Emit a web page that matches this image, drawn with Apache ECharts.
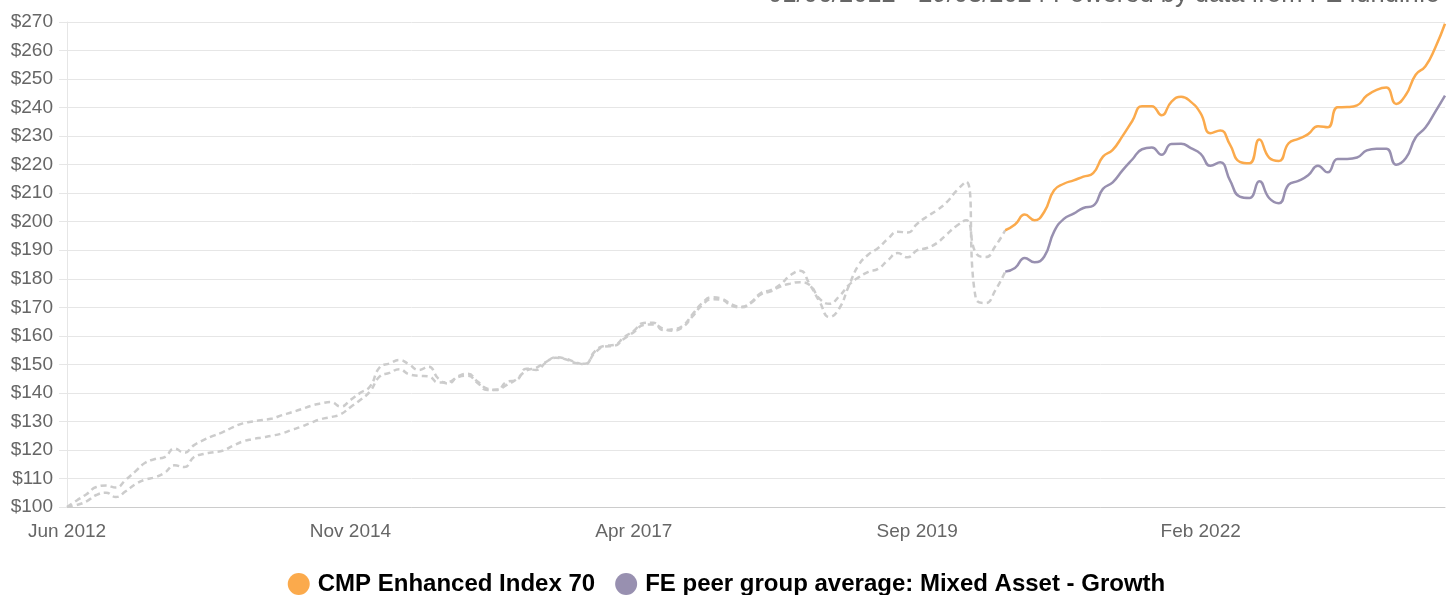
<!DOCTYPE html>
<html>
<head>
<meta charset="utf-8">
<script src="https://cdn.jsdelivr.net/npm/echarts@6/dist/echarts.min.js"></script>
<style>
  html, body { margin: 0; padding: 0; background: #fff; }
  #chart { width: 1453px; height: 595px; }
</style>
</head>
<body>
<div id="chart"></div>
<script>
// monthly points, Jun 2012 .. Mar 2024
const startYear = 2012
const startMonth = 5 // June (0-based)
const monthCount = 142
const monthNames = ['Jan','Feb','Mar','Apr','May','Jun','Jul','Aug','Sep','Oct','Nov','Dec']
const months = []
for (let i = 0; i < monthCount; i++) {
  const m = (startMonth + i) % 12
  const y = startYear + Math.floor((startMonth + i) / 12)
  months.push(monthNames[m] + ' ' + y)
}

const yTicks = { min: 100, max: 270, step: 10 }
const seriesNames = ['CMP Enhanced Index 70', 'FE peer group average: Mixed Asset - Growth']
const titleText = '01/06/2012 - 29/03/2024 Powered by data from FE fundinfo'

// history before the fund's own track record (grey, dashed) : index 0..96
const fundHistory = [100,100.7,102,104.2,105,103.5,105.5,108,109.6,110.4,
  112,114.6,114,117.5,118.6,119.2,119.8,121.5,123,123.8,
  124.4,125,125.8,127,128.2,129.6,130.8,131.5,132.5,135,
  137.5,140.5,145.8,147,148.3,146.5,146,145.8,143.6,143.8,
  145.5,146,143.5,141,141.2,142.8,144.8,147.8,148.8,150.8,
  152.3,151.8,150.5,150.2,154,156.2,156.5,159,161.3,163.8,
  164,162.5,161.8,163,166.8,170.8,172.8,172.6,170.5,170,
  171.5,174.5,175.6,177.3,178.3,178.8,177.8,173,171.2,173.8,
  177.8,180.5,182.4,183.5,186.5,189,187.5,190,190.8,192.5,
  195.5,198.5,200.5,189,187.6,191.5,197]
const peerHistory = [100,102.3,104.5,107,107.5,106.8,109.5,112.5,115.5,116.8,
  117.5,120.5,119,121.7,123.5,125,126.3,128,129.3,130,
  130.5,131,132.2,133.2,134.3,135.5,136.3,136.8,135.2,137.5,
  140,142.2,149,150.3,151.5,150,148,149.2,145,143.3,
  145.8,146.7,144,141.5,141,143.9,144.5,148.5,148,150.6,
  152.5,152,150.8,150,154.5,156.5,156.8,159.5,161.8,164.5,
  164.6,162,162.3,163.5,167.5,171.5,173.5,173,171,170.2,
  171.8,175,176,178,181.2,182.8,178,172,166.6,169.5,
  177.5,184.8,188.5,190.8,194,196.5,196.2,199.3,201.8,204,
  206.8,210.8,214,173,171.5,176,182.5]

// recent (coloured) : index 96..141
const recentStart = 96
const fundRecent = [197,199,202.5,200.5,203.5,211,213.3,214.5,215.8,217,
  222.8,225.2,230,235.3,240.5,240.5,237.3,242,243.8,242,
  238,231,232,227,221,220.5,228.8,222.5,221.3,227.5,
  229,230.7,233.5,233.1,240.1,240.2,240.8,244.2,246.2,247,
  241.3,244.5,251.5,254.5,261,269.4]
const peerRecent = [182.5,183.8,187.3,185.8,187.8,196.5,201,202.8,204.8,205.6,
  211.5,213.8,218,221.8,225.4,226,223.5,227.2,227.3,225.8,
  223.8,219.6,220.8,214.5,208.8,208.3,214.2,208.3,206.5,213,
  214.3,216.3,219.6,217.3,222,222,222.5,225,225.6,225.6,
  220,222.3,229.5,233,238.5,244.2]

function padRecent(arr) {
  const out = new Array(recentStart).fill(null)
  return out.concat(arr)
}

const chart = echarts.init(document.getElementById('chart'))
const font = 'Liberation Sans, Arial, sans-serif'
const dashStyle = { color: '#cccccc', width: 2.5, type: [6, 4] }

chart.setOption({
  animation: false,
  title: {
    text: titleText,
    right: 8,
    top: -23,
    textStyle: { color: '#666', fontSize: 25.5, fontWeight: 'normal', fontFamily: font }
  },
  legend: {
    data: seriesNames,
    bottom: -6,
    left: 'center',
    icon: 'circle',
    itemWidth: 22,
    itemHeight: 22,
    itemGap: 20,
    textStyle: { color: '#000', fontSize: 24, fontWeight: 'bold', fontFamily: font, padding: [0, 0, 0, 3] }
  },
  grid: { left: 67, right: 8, top: 22, bottom: 88, containLabel: false },
  xAxis: {
    type: 'category',
    data: months,
    boundaryGap: false,
    axisLine: { lineStyle: { color: '#cccccc' } },
    axisTick: { show: false },
    axisLabel: { interval: 28, color: '#666', fontSize: 19, fontFamily: font, margin: 15 },
    splitLine: { show: false }
  },
  yAxis: {
    type: 'value',
    min: yTicks.min,
    max: yTicks.max,
    interval: yTicks.step,
    axisLine: { show: true, lineStyle: { color: '#e6e6e6' } },
    axisTick: { show: true, length: 8, lineStyle: { color: '#e6e6e6' } },
    axisLabel: { color: '#666', fontSize: 19, fontFamily: font, margin: 14, formatter: '${value}' },
    splitLine: { lineStyle: { color: '#e6e6e6' } }
  },
  series: [
    {
      name: 'fundHistory', type: 'line', data: fundHistory, smooth: 0.5, showSymbol: false,
      lineStyle: dashStyle, z: 1
    },
    {
      name: 'peerHistory', type: 'line', data: peerHistory, smooth: 0.5, showSymbol: false,
      lineStyle: dashStyle, z: 1
    },
    {
      name: seriesNames[0], type: 'line', data: padRecent(fundRecent), smooth: 0.5, showSymbol: false,
      itemStyle: { color: '#fbaa4c' },
      lineStyle: { color: '#fbaa4c', width: 2.5 }, z: 3
    },
    {
      name: seriesNames[1], type: 'line', data: padRecent(peerRecent), smooth: 0.5, showSymbol: false,
      itemStyle: { color: '#9890b0' },
      lineStyle: { color: '#9890b0', width: 2.5 }, z: 2
    }
  ]
})
</script>
</body>
</html>
